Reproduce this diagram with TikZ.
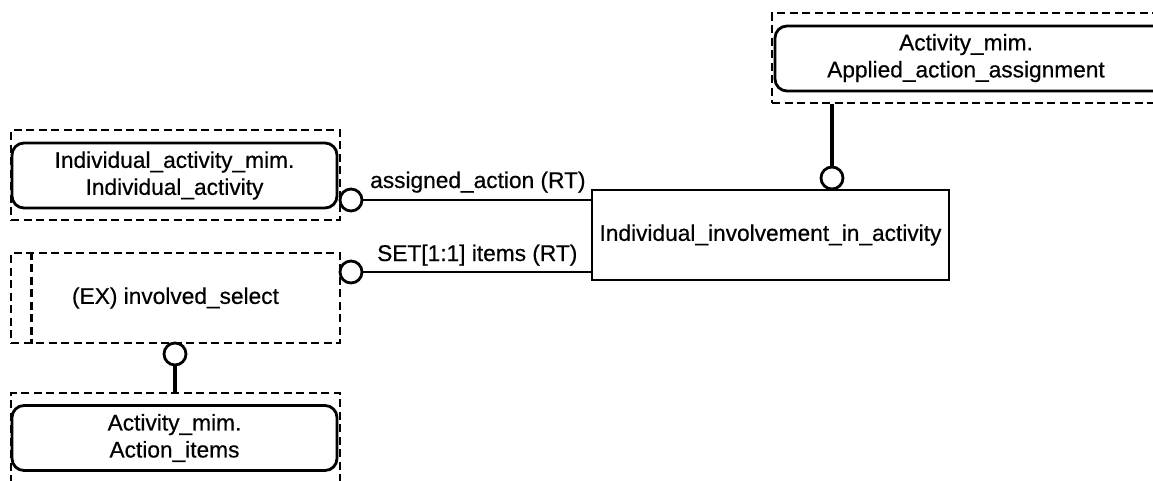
\documentclass[tikz,border=0pt]{standalone}
\usepackage{fontspec}
\setmainfont{Liberation Sans}
\newfontfamily\diagfont[FakeBold=0.5]{Liberation Sans}
\usetikzlibrary{positioning}
\tikzstyle{thinline} = [line width=2.6pt]
\tikzstyle{thickline} = [line width=4.8pt]

\begin{document}
\begin{tikzpicture}[
    x=1pt, y=-1pt,
    font=\diagfont\fontsize{22.7}{27}\selectfont,
    entity/.style={rectangle, draw, line width=2.6pt, minimum width=357pt, minimum height=90pt, text centered},
    mimbox/.style={rectangle, rounded corners=12pt, draw, line width=2.8pt, minimum width=325pt, minimum height=65pt, align=center, inner sep=0pt},
    frame/.style={rectangle, draw, line width=2.6pt, dash pattern=on 8pt off 4.5pt, minimum width=329pt, minimum height=90pt, inner sep=0pt},
    ring/.style={circle, draw, line width=2.8pt, fill=white, minimum size=22pt, inner sep=0pt},
    role/.style={inner sep=0pt, anchor=base west}
]
\useasboundingbox (0,0) rectangle (1153,480);
\clip (0,0) rectangle (1153,480);

% Central entity
\node (inv) [entity] at (770.5,235) {Individual\_involvement\_in\_activity};

% Mapped entities (the right one runs off the page)
\node (aaaframe) [frame, minimum width=424pt] at (984,58) {};
\node (aaa) [mimbox, minimum width=418pt] at (984,58.5) {\begin{tabular}{@{}c@{}}Activity\_mim.\\Applied\_action\_assignment\end{tabular}\hspace{36pt}};

\node (iaframe) [frame] at (175.5,175) {};
\node (ia) [mimbox] at (174.5,175.5) {Individual\_activity\_mim.\\Individual\_activity};

\node (sel) [frame] at (175.5,298) {(EX) involved\_select};
\draw[line width=2.6pt, dash pattern=on 8pt off 4.5pt] ([xshift=22pt]sel.north west) -- ([xshift=22pt]sel.south west);

\node (itemsframe) [frame, minimum height=110pt] at (175.5,448) {};
\node (items) [mimbox] at (174.5,438) {Activity\_mim.\\Action\_items};

% Rings
\node (ring1) [ring] at (832,178) {};
\node (ring2) [ring] at (351,200) {};
\node (ring3) [ring] at (351,272) {};
\node (ring4) [ring] at (175,354) {};

% Connections
\draw[thickline] (aaaframe.south -| ring1) -- (ring1.north);
\draw[thinline] (ring2.east) -- (ring2 -| inv.west);
\draw[thinline] (ring3.east) -- (ring3 -| inv.west);
\draw[thickline] (ring4.south) -- (ring4 |- itemsframe.north);

% Role labels
\node (assignedlabel) [role] at (370,188) {assigned\_action (RT)};
\node (setlabel) [role] at (377,261) {SET[1:1] items (RT)};
\end{tikzpicture}
\end{document}
